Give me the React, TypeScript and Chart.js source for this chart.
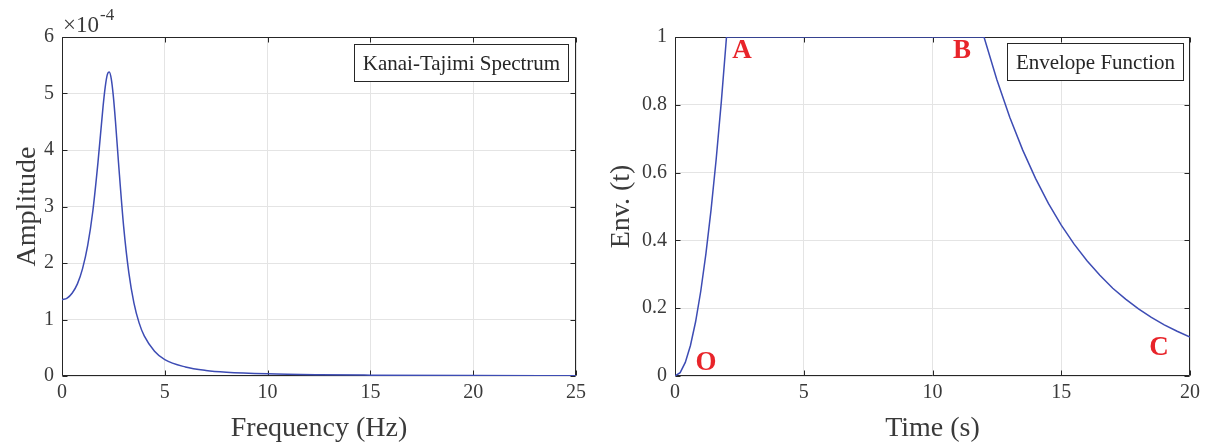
import React, { useEffect, useRef } from "react";
import { Chart, registerables } from "chart.js";

Chart.register(...registerables);

// ---------- data ----------
const freqHz = [0, 0.25, 0.5, 0.75, 1, 1.25, 1.5, 1.75, 2, 2.1, 2.2, 2.3, 2.4, 2.5, 2.6, 2.75, 3, 3.25, 3.5, 3.75, 4, 4.5, 5, 6, 7, 8, 10, 12.5, 15, 20, 25];
// amplitude in units of 1e-4
const amplitudeE4 = [1.35, 1.38, 1.47, 1.63, 1.9, 2.31, 2.92, 3.78, 4.78, 5.11, 5.33, 5.38, 5.25, 4.94, 4.51, 3.77, 2.64, 1.83, 1.29, 0.94, 0.71, 0.44, 0.29, 0.16, 0.098, 0.067, 0.038, 0.022, 0.015, 0.008, 0.005];
const freqTicks = [0, 5, 10, 15, 20, 25];
const ampTicks = [0, 1, 2, 3, 4, 5, 6];

const timeS = [0, 0.2, 0.4, 0.6, 0.8, 1.0, 1.2, 1.4, 1.6, 1.8, 2.0, 12, 12.5, 13, 13.5, 14, 14.5, 15, 15.5, 16, 16.5, 17, 17.5, 18, 18.5, 19, 19.5, 20];
const envelope = [0, 0.01, 0.04, 0.09, 0.16, 0.25, 0.36, 0.49, 0.64, 0.81, 1.0, 1.0, 0.874, 0.763, 0.667, 0.583, 0.509, 0.445, 0.389, 0.34, 0.297, 0.259, 0.227, 0.198, 0.173, 0.151, 0.132, 0.115];
const timeTicks = [0, 5, 10, 15, 20];
const envTicks = [0, 0.2, 0.4, 0.6, 0.8, 1];

const envMarkLabels = ["O", "A", "B", "C"];
const envMarkTimes = [1.2, 2.6, 11.15, 18.8];
const envMarkValues = [0.042, 0.962, 0.962, 0.085];

// ---------- styles ----------
const FONT = "'Liberation Serif', 'DejaVu Serif', serif";
const AXIS_COLOR = "#262626";
const TEXT_COLOR = "#3a3a3a";
const GRID_COLOR = "#e4e4e4";
const LINE_COLOR = "#3d4cb4";
const MARK_COLOR = "#e8242a";

function frameTicksPlugin() {
  return {
    id: "frameTicks",
    beforeDatasetsDraw(chart: any) {
      const { ctx, chartArea: a, scales } = chart;
      const xs = scales.x;
      const ys = scales.y;
      ctx.save();
      ctx.strokeStyle = AXIS_COLOR;
      ctx.lineWidth = 1;
      const L = Math.round(a.left) + 0.5;
      const R = Math.round(a.right) - 0.5;
      const T = Math.round(a.top) + 0.5;
      const B = Math.round(a.bottom) - 0.5;
      ctx.beginPath();
      ctx.rect(L, T, R - L, B - T);
      ctx.stroke();
      const tl = 5;
      ctx.beginPath();
      xs.ticks.forEach((t: any) => {
        const px = Math.round(xs.getPixelForValue(t.value)) + 0.5;
        ctx.moveTo(px, B);
        ctx.lineTo(px, B - tl);
        ctx.moveTo(px, T);
        ctx.lineTo(px, T + tl);
      });
      ys.ticks.forEach((t: any) => {
        const py = Math.round(ys.getPixelForValue(t.value)) + 0.5;
        ctx.moveTo(L, py);
        ctx.lineTo(L + tl, py);
        ctx.moveTo(R, py);
        ctx.lineTo(R - tl, py);
      });
      ctx.stroke();
      ctx.restore();
    },
  };
}

function textBoxPlugin(text: string, gapRight: number, gapTop: number) {
  return {
    id: "textBox",
    afterDatasetsDraw(chart: any) {
      const { ctx, chartArea: a } = chart;
      ctx.save();
      ctx.font = `21px ${FONT}`;
      const w = ctx.measureText(text).width;
      const bw = Math.round(w + 17);
      const bh = 37;
      const x = Math.round(a.right - gapRight - bw) + 0.5;
      const y = Math.round(a.top + gapTop) + 0.5;
      ctx.fillStyle = "#ffffff";
      ctx.fillRect(x, y, bw, bh);
      ctx.strokeStyle = AXIS_COLOR;
      ctx.lineWidth = 1;
      ctx.strokeRect(x, y, bw, bh);
      ctx.fillStyle = AXIS_COLOR;
      ctx.textAlign = "center";
      ctx.textBaseline = "middle";
      ctx.fillText(text, x + bw / 2, y + bh / 2 + 1);
      ctx.restore();
    },
  };
}

const exponentPlugin = {
  id: "exponent",
  afterDraw(chart: any) {
    const { ctx, chartArea: a } = chart;
    ctx.save();
    ctx.fillStyle = TEXT_COLOR;
    ctx.textBaseline = "alphabetic";
    ctx.textAlign = "left";
    ctx.font = `23px ${FONT}`;
    const base = "\u00d710";
    ctx.fillText(base, a.left + 1, 32);
    const w = ctx.measureText(base).width;
    ctx.font = `17px ${FONT}`;
    ctx.fillText("-4", a.left + 1 + w + 1, 20);
    ctx.restore();
  },
};

const markLabelsPlugin = {
  id: "markLabels",
  afterDatasetsDraw(chart: any) {
    const { ctx, scales } = chart;
    ctx.save();
    ctx.fillStyle = MARK_COLOR;
    ctx.font = `bold 27px ${FONT}`;
    ctx.textAlign = "center";
    ctx.textBaseline = "middle";
    envMarkLabels.forEach((lab, i) => {
      const px = scales.x.getPixelForValue(envMarkTimes[i]);
      const py = scales.y.getPixelForValue(envMarkValues[i]);
      ctx.fillText(lab, px, py + 1);
    });
    ctx.restore();
  },
};

function makeScales(opts: {
  xTicks: number[];
  yTicks: number[];
  xMax: number;
  yMax: number;
  xTitle: string;
  yTitle: string;
  yWidth: number;
  yTitlePad: number;
  yFmt: (v: number) => string;
}) {
  return {
    x: {
      type: "linear",
      min: 0,
      max: opts.xMax,
      afterBuildTicks: (s: any) => {
        s.ticks = opts.xTicks.map((v) => ({ value: v }));
      },
      afterFit: (s: any) => {
        s.height = 72;
      },
      grid: { color: GRID_COLOR, lineWidth: 1, drawTicks: false },
      border: { display: false },
      ticks: {
        padding: 5,
        color: TEXT_COLOR,
        font: { family: FONT, size: 20 },
        maxRotation: 0,
        autoSkip: false,
        callback: (v: any) => String(v),
      },
      title: {
        display: true,
        text: opts.xTitle,
        color: TEXT_COLOR,
        font: { family: FONT, size: 28 },
        padding: { top: 0, bottom: 3 },
      },
    },
    y: {
      type: "linear",
      min: 0,
      max: opts.yMax,
      afterBuildTicks: (s: any) => {
        s.ticks = opts.yTicks.map((v) => ({ value: v }));
      },
      afterFit: (s: any) => {
        s.width = opts.yWidth;
      },
      grid: { color: GRID_COLOR, lineWidth: 1, drawTicks: false },
      border: { display: false },
      ticks: {
        padding: 8,
        color: TEXT_COLOR,
        font: { family: FONT, size: 20 },
        autoSkip: false,
        callback: (v: any) => opts.yFmt(Number(v)),
      },
      title: {
        display: true,
        text: opts.yTitle,
        color: TEXT_COLOR,
        font: { family: FONT, size: 28 },
        padding: { top: opts.yTitlePad, bottom: 0 },
      },
    },
  };
}

export default function App() {
  const leftRef = useRef<HTMLCanvasElement | null>(null);
  const rightRef = useRef<HTMLCanvasElement | null>(null);

  useEffect(() => {
    const spectrumPoints = freqHz.map((f, i) => ({ x: f, y: amplitudeE4[i] }));
    const envPoints = timeS.map((t, i) => ({ x: t, y: envelope[i] }));

    const left = new Chart(leftRef.current as HTMLCanvasElement, {
      type: "line",
      data: {
        datasets: [
          {
            data: spectrumPoints,
            borderColor: LINE_COLOR,
            borderWidth: 1.5,
            pointRadius: 0,
            fill: false,
            cubicInterpolationMode: "monotone",
          },
        ],
      },
      options: {
        animation: false,
        responsive: false,
        events: [],
        layout: { padding: { left: 0, right: 24, top: 37, bottom: 0 } },
        plugins: { legend: { display: false }, tooltip: { enabled: false } },
        scales: makeScales({
          xTicks: freqTicks,
          yTicks: ampTicks,
          xMax: 25,
          yMax: 6,
          xTitle: "Frequency (Hz)",
          yTitle: "Amplitude",
          yWidth: 62,
          yTitlePad: 11,
          yFmt: (v) => String(v),
        }) as any,
      },
      plugins: [frameTicksPlugin(), textBoxPlugin("Kanai-Tajimi Spectrum", 8, 7), exponentPlugin],
    } as any);

    const right = new Chart(rightRef.current as HTMLCanvasElement, {
      type: "line",
      data: {
        datasets: [
          {
            data: envPoints,
            borderColor: LINE_COLOR,
            borderWidth: 1.5,
            pointRadius: 0,
            fill: false,
            tension: 0,
          },
        ],
      },
      options: {
        animation: false,
        responsive: false,
        events: [],
        layout: { padding: { left: 0, right: 17, top: 37, bottom: 0 } },
        plugins: { legend: { display: false }, tooltip: { enabled: false } },
        scales: makeScales({
          xTicks: timeTicks,
          yTicks: envTicks,
          xMax: 20,
          yMax: 1,
          xTitle: "Time (s)",
          yTitle: "Env. (t)",
          yWidth: 75,
          yTitlePad: 5,
          yFmt: (v) => (v === 0 ? "0" : v === 1 ? "1" : String(Math.round(v * 10) / 10)),
        }) as any,
      },
      plugins: [frameTicksPlugin(), textBoxPlugin("Envelope Function", 7, 6), markLabelsPlugin],
    } as any);

    return () => {
      left.destroy();
      right.destroy();
    };
  }, []);

  return (
    <div style={{ position: "absolute", left: 0, top: 0, width: 1207, height: 448, background: "#ffffff" }}>
      <canvas ref={leftRef} width={600} height={448} style={{ position: "absolute", left: 0, top: 0 }} />
      <canvas ref={rightRef} width={607} height={448} style={{ position: "absolute", left: 600, top: 0 }} />
    </div>
  );
}
